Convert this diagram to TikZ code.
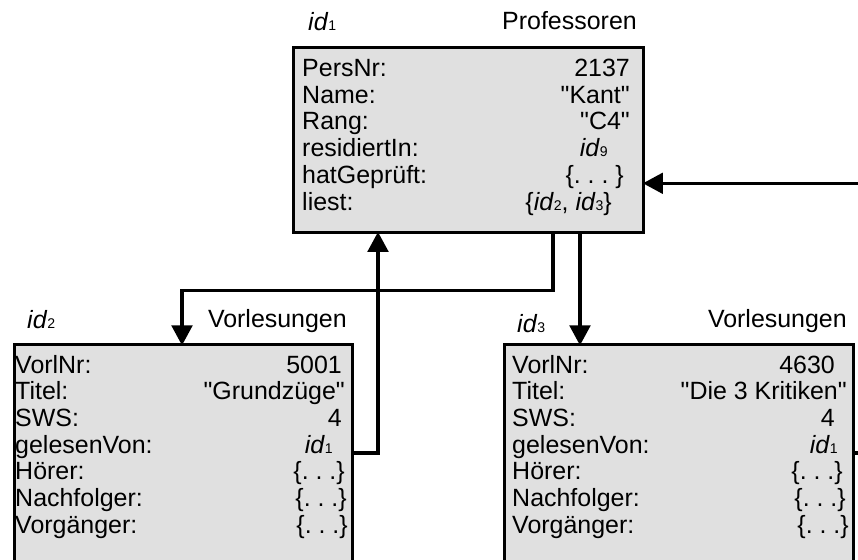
\documentclass[tikz,border=0pt]{standalone}
\usepackage{fontspec}
\setmainfont{Liberation Sans}
\usetikzlibrary{arrows.meta}
\definecolor{objgrau}{RGB}{224,224,224}
\newcommand\oid[1]{\textit{id}{\fontsize{12}{12}\selectfont#1}}
\newcommand\qt[1]{\textquotedbl#1\textquotedbl}
\tikzset{
  objekt/.style={draw, line width=2.8pt, fill=objgrau, rectangle, inner sep=0pt, anchor=north west},
  feld/.style={anchor=base west, inner sep=0pt},
  wert/.style={anchor=base east, inner sep=0pt},
  ref/.style={line width=2.8pt, -{Triangle[length=0.6cm, width=0.62cm]}, shorten >=-2pt},
}
\begin{document}
\begin{tikzpicture}[x=0.03cm, y=-0.03cm, font=\fontsize{21.3}{24}\selectfont]
\clip (0,0) rectangle (858,560);
\coordinate (aussen) at (870,0);
% Professoren
\node[objekt, minimum width=10.5cm, minimum height=5.55cm] (prof) at (292,46) {};
\node[feld] (pid) at (308,30) {\oid{1}};
\node[wert] (ptyp) at (637,29) {Professoren};
\node[feld] (pn) at (302,76.5) {PersNr:};
\node[feld] (na) at (302,103.2) {Name:};
\node[feld] (ra) at (302,129.9) {Rang:};
\node[feld] (ri) at (302,156.6) {residiertIn:};
\node[feld] (hg) at (302,183.3) {hatGeprüft:};
\node[feld] (li) at (302,210) {liest:};
\node[wert] (pnw) at (630,76.5) {2137};
\node[wert] (naw) at (630,103.2) {\qt{Kant}};
\node[wert] (raw) at (630,129.9) {\qt{C4}};
\node[wert] (riw) at (608,156.6) {\oid{9}};
\node[wert] (hgw) at (624,183.3) {\{.~.~.~\}};
\node[wert] (liw) at (612,210) {\{\oid{2}, \oid{3}\}};
% Vorlesungen, links
\node[objekt, minimum width=10.155cm, minimum height=7cm] (vl1) at (12.5,343) {};
\node[feld] (vid1) at (27,328) {\oid{2}};
\node[wert] (vtyp1) at (347,327) {Vorlesungen};
\node[feld] (vn1) at (15,373) {VorlNr:};
\node[feld] (ti1) at (15,399.7) {Titel:};
\node[feld] (sw1) at (15,426.4) {SWS:};
\node[feld] (gv1) at (15,453) {gelesenVon:};
\node[feld] (ho1) at (15,479.8) {Hörer:};
\node[feld] (nf1) at (15,506.5) {Nachfolger:};
\node[feld] (vg1) at (15,533.2) {Vorgänger:};
\node[wert] (vnw1) at (342,373) {5001};
\node[wert] (tiw1) at (345,399.7) {\qt{Grundzüge}};
\node[wert] (sww1) at (342,426.4) {4};
\node[wert] (gvw1) at (333,453) {\oid{1}};
\node[wert] (how1) at (345,479.8) {\{.~.~.\}};
\node[wert] (nfw1) at (347,506.5) {\{.~.~.\}};
\node[wert] (vgw1) at (348,533.2) {\{.~.~.\}};
% Vorlesungen, rechts
\node[objekt, minimum width=10.47cm, minimum height=7cm] (vl2) at (503,343) {};
\node[feld] (vid2) at (517,332) {\oid{3}};
\node[wert] (vtyp2) at (847,327) {Vorlesungen};
\node[feld] (vn2) at (512,373) {VorlNr:};
\node[feld] (ti2) at (512,399.7) {Titel:};
\node[feld] (sw2) at (512,426.4) {SWS:};
\node[feld] (gv2) at (512,453) {gelesenVon:};
\node[feld] (ho2) at (512,479.8) {Hörer:};
\node[feld] (nf2) at (512,506.5) {Nachfolger:};
\node[feld] (vg2) at (512,533.2) {Vorgänger:};
\node[wert] (vnw2) at (835,373) {4630};
\node[wert] (tiw2) at (847,399.7) {\qt{Die 3 Kritiken}};
\node[wert] (sww2) at (835,426.4) {4};
\node[wert] (gvw2) at (838,453) {\oid{1}};
\node[wert] (how2) at (843,479.8) {\{.~.~.\}};
\node[wert] (nfw2) at (846,506.5) {\{.~.~.\}};
\node[wert] (vgw2) at (849,533.2) {\{.~.~.\}};
% Referenzen
\draw[ref] (prof.south -| 553,0) -- ++(0,56) -| (vl1.north -| 182,0);
\draw[ref] (prof.south -| 580,0) -- (vl2.north -| 580,0);
\draw[ref] (gv1.base -| vl1.east) -| (prof.south -| 378,0);
\draw[ref] (hg.base -| aussen) -- (hg.base -| prof.east);
\draw[line width=2.8pt] (gv2.base -| vl2.east) -- (gv2.base -| aussen);
\end{tikzpicture}
\end{document}
